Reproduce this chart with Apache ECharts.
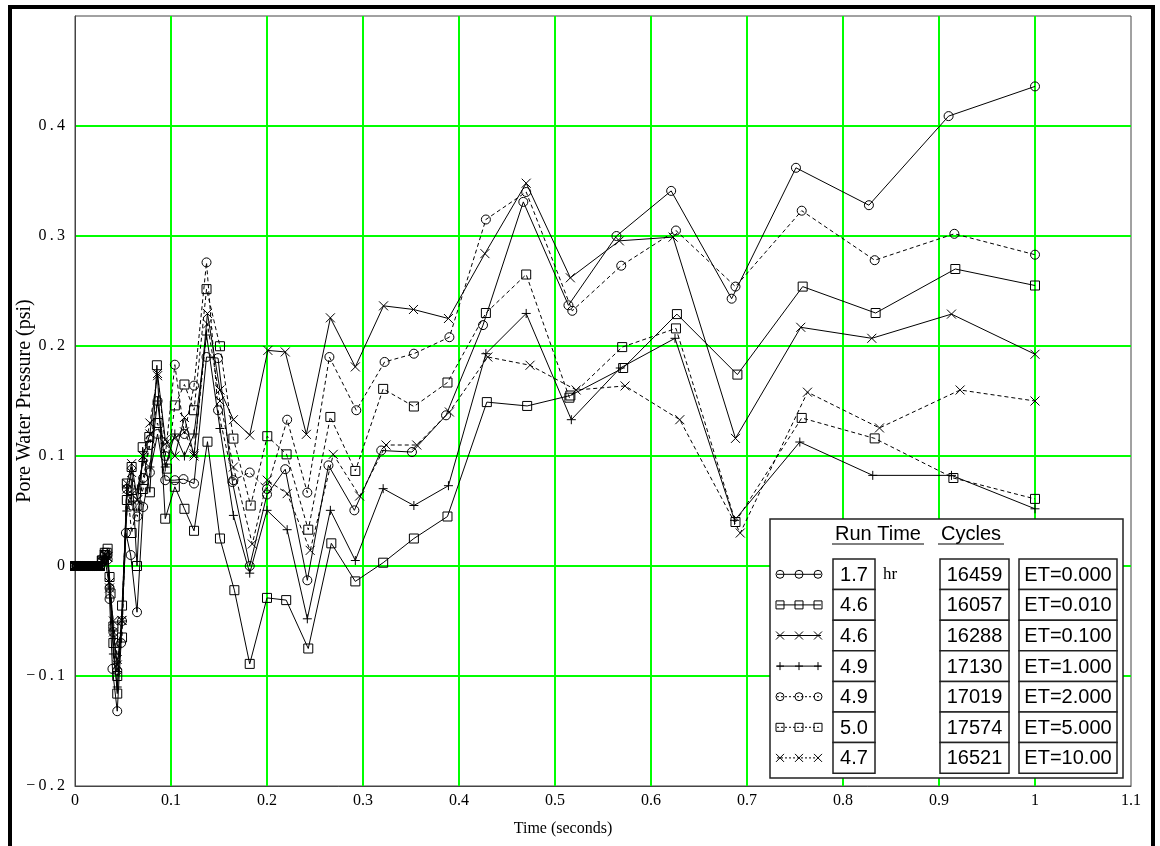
<!DOCTYPE html>
<html>
<head>
<meta charset="utf-8">
<script src="https://cdn.jsdelivr.net/npm/echarts@6/dist/echarts.min.js"></script>
<style>
  html, body { margin: 0; padding: 0; background: #fff; }
  #chart { width: 1160px; height: 846px; }
</style>
</head>
<body>
<div id="chart"></div>
<script>
// readings before the trigger: every test sits at 0 psi
var flatStart = [[0, 0], [0.002, 0], [0.004, 0], [0.006, 0], [0.008, 0], [0.010, 0], [0.012, 0],
    [0.014, 0], [0.016, 0], [0.018, 0], [0.020, 0], [0.022, 0], [0.024, 0], [0.026, 0]];

// [time (s), pore water pressure (psi)]
var et0000 = [[0.028, 0.004], [0.031, 0.01], [0.034, 0.006], [0.036, -0.03], [0.039, -0.0935], [0.044, -0.132],
    [0.048, -0.07], [0.053, 0.03], [0.058, 0.01], [0.0646, -0.042], [0.071, 0.0536], [0.078, 0.085], [0.086, 0.12],
    [0.094, 0.078], [0.104, 0.078], [0.113, 0.079], [0.124, 0.075], [0.137, 0.19], [0.149, 0.189], [0.164, 0.0763],
    [0.182, 0.0], [0.2, 0.065], [0.219, 0.088], [0.242, -0.013], [0.264, 0.0915], [0.291, 0.0506], [0.319, 0.105],
    [0.351, 0.1036], [0.3865, 0.137], [0.425, 0.219], [0.467, 0.331], [0.514, 0.237], [0.564, 0.300], [0.621, 0.341],
    [0.684, 0.243], [0.751, 0.362], [0.827, 0.328], [0.910, 0.409], [1.0, 0.436]];

var et0010 = [[0.028, 0.005], [0.031, 0.012], [0.034, 0.0157], [0.037, -0.025], [0.040, -0.07], [0.044, -0.116],
    [0.049, -0.036], [0.054, 0.06], [0.059, 0.09], [0.0646, 0.0], [0.0705, 0.108], [0.078, 0.067], [0.0853, 0.1825],
    [0.094, 0.043], [0.104, 0.072], [0.114, 0.052], [0.124, 0.032], [0.138, 0.113], [0.151, 0.025], [0.166, -0.022],
    [0.182, -0.089], [0.2, -0.029], [0.22, -0.031], [0.243, -0.075], [0.267, 0.0206], [0.292, -0.014], [0.321, 0.003],
    [0.353, 0.025], [0.388, 0.045], [0.429, 0.149], [0.471, 0.1455], [0.516, 0.155], [0.571, 0.18], [0.627, 0.229],
    [0.690, 0.174], [0.758, 0.254], [0.834, 0.230], [0.917, 0.270], [1.0, 0.255]];

var et0100 = [[0.028, 0.004], [0.031, 0.01], [0.034, 0.008], [0.036, -0.015], [0.040, -0.06], [0.044, -0.09],
    [0.049, -0.0495], [0.054, 0.075], [0.059, 0.093], [0.065, 0.06], [0.071, 0.1], [0.078, 0.12], [0.086, 0.175],
    [0.094, 0.115], [0.104, 0.1], [0.114, 0.135], [0.124, 0.1], [0.138, 0.2296], [0.151, 0.16], [0.165, 0.133],
    [0.182, 0.119], [0.2009, 0.196], [0.219, 0.1946], [0.241, 0.1197], [0.266, 0.2256], [0.292, 0.181],
    [0.3214, 0.2365], [0.3526, 0.2332], [0.389, 0.225], [0.427, 0.284], [0.470, 0.348], [0.516, 0.262],
    [0.567, 0.2956], [0.623, 0.299], [0.688, 0.116], [0.756, 0.217], [0.830, 0.207], [0.913, 0.229], [1.0, 0.1925]];

var et1000 = [[0.028, 0.003], [0.031, 0.008], [0.033, 0.008], [0.036, -0.02], [0.040, -0.08], [0.044, -0.11],
    [0.049, -0.05], [0.054, 0.05], [0.059, 0.065], [0.065, 0.07], [0.071, 0.095], [0.078, 0.09], [0.086, 0.15],
    [0.094, 0.09], [0.104, 0.12], [0.114, 0.1], [0.124, 0.12], [0.137, 0.21], [0.151, 0.125], [0.165, 0.046],
    [0.182, -0.0065], [0.2, 0.0506], [0.221, 0.033], [0.242, -0.048], [0.266, 0.0506], [0.292, 0.005],
    [0.321, 0.0703], [0.353, 0.055], [0.389, 0.073], [0.428, 0.193], [0.470, 0.2296], [0.517, 0.133], [0.568, 0.18],
    [0.625, 0.207], [0.687, 0.0415], [0.755, 0.1127], [0.831, 0.0824], [0.913, 0.0824], [1.0, 0.052]];

var et2000 = [[0.028, 0.004], [0.031, 0.01], [0.034, 0.01], [0.036, -0.02], [0.040, -0.06], [0.044, -0.095],
    [0.049, -0.05], [0.054, 0.07], [0.059, 0.055], [0.065, 0.045], [0.071, 0.08], [0.078, 0.11], [0.086, 0.15],
    [0.094, 0.1], [0.104, 0.183], [0.114, 0.12], [0.124, 0.164], [0.137, 0.276], [0.149, 0.1416], [0.165, 0.078],
    [0.182, 0.085], [0.2, 0.07], [0.221, 0.133], [0.242, 0.0667], [0.265, 0.190], [0.293, 0.1416], [0.3225, 0.1855],
    [0.353, 0.193], [0.390, 0.208], [0.428, 0.315], [0.470, 0.340], [0.518, 0.232], [0.569, 0.273], [0.626, 0.305],
    [0.688, 0.254], [0.757, 0.323], [0.833, 0.278], [0.916, 0.302], [1.0, 0.283]];

var et5000 = [[0.028, 0.005], [0.031, 0.01], [0.033, 0.012], [0.036, -0.01], [0.040, -0.055], [0.044, -0.1],
    [0.049, -0.065], [0.054, 0.075], [0.059, 0.03], [0.065, 0.055], [0.071, 0.07], [0.0774, 0.1173], [0.086, 0.13],
    [0.0957, 0.0885], [0.104, 0.146], [0.114, 0.165], [0.124, 0.1416], [0.137, 0.2517], [0.151, 0.1998],
    [0.165, 0.1158], [0.183, 0.055], [0.2003, 0.118], [0.2204, 0.1015], [0.243, 0.033], [0.266, 0.1355],
    [0.292, 0.0864], [0.321, 0.161], [0.353, 0.145], [0.388, 0.1668], [0.428, 0.230], [0.470, 0.265], [0.515, 0.153],
    [0.570, 0.199], [0.626, 0.216], [0.688, 0.040], [0.757, 0.1346], [0.833, 0.116], [0.915, 0.080], [1.0, 0.061]];

var et10000 = [[0.028, 0.005], [0.031, 0.01], [0.034, 0.008], [0.036, -0.02], [0.040, -0.05], [0.044, -0.085],
    [0.0487, -0.0495], [0.054, 0.07], [0.059, 0.085], [0.065, 0.06], [0.071, 0.1], [0.078, 0.13], [0.086, 0.173],
    [0.094, 0.111], [0.104, 0.116], [0.114, 0.122], [0.124, 0.102], [0.138, 0.22], [0.151, 0.15], [0.165, 0.09],
    [0.1847, 0.02], [0.2003, 0.078], [0.221, 0.0658], [0.245, 0.0142], [0.269, 0.1015], [0.2965, 0.0636],
    [0.324, 0.11], [0.356, 0.11], [0.39, 0.14], [0.43, 0.190], [0.474, 0.1825], [0.522, 0.160], [0.573, 0.1637],
    [0.630, 0.133], [0.693, 0.030], [0.763, 0.158], [0.838, 0.1255], [0.922, 0.160], [1.0, 0.150]];

// legend table
var etLabels = ['ET=0.000', 'ET=0.010', 'ET=0.100', 'ET=1.000', 'ET=2.000', 'ET=5.000', 'ET=10.00'];
var runTimes = ['1.7', '4.6', '4.6', '4.9', '4.9', '5.0', '4.7'];
var cycles = ['16459', '16057', '16288', '17130', '17019', '17574', '16521'];
var markers = ['circle', 'square', 'cross', 'plus', 'circle', 'square', 'cross'];
var dashed = [false, false, false, false, true, true, true];
var seriesData = [et0000, et0010, et0100, et1000, et2000, et5000, et10000];

var SYMBOLS = {
    circle: 'circle',
    square: 'rect',
    cross: 'path://M0,0L10,10M10,0L0,10',
    plus: 'path://M5,0L5,10M0,5L10,5'
};
var SERIF = '"Liberation Serif", "Times New Roman", serif';
var SANS = '"Liberation Sans", Arial, sans-serif';
var GREEN = '#00ff00';

var chart = echarts.init(document.getElementById('chart'));

var series = seriesData.map(function(d, i) {
    return {
        name: etLabels[i],
        type: 'line',
        data: flatStart.concat(d),
        symbol: SYMBOLS[markers[i]],
        symbolSize: 9,
        showAllSymbol: true,
        lineStyle: { color: '#000', width: 1, type: dashed[i] ? [4, 3] : 'solid' },
        itemStyle: { color: 'rgba(0,0,0,0)', borderColor: '#000', borderWidth: 1 },
        z: 3
    };
});

// legend box drawn by hand, like the original plot
var LX = 770, LY = 519, LW = 353, LH = 259;
var ROW0 = 559, ROWH = 30.6;
var graphics = [
    { type: 'rect', shape: { x: 10, y: 7, width: 1143, height: 900 },
      style: { fill: 'none', stroke: '#000', lineWidth: 4 }, z: 100 },
    { type: 'text', x: 563, y: 829, z: 100,
      style: { text: 'Time (seconds)', font: '16px ' + SERIF, fill: '#000', align: 'center', verticalAlign: 'middle' } },
    { type: 'rect', shape: { x: LX, y: LY, width: LW, height: LH },
      style: { fill: '#fff', stroke: '#222', lineWidth: 1.5 }, z: 50 },
    { type: 'text', x: 878, y: 534, z: 51,
      style: { text: 'Run Time', font: '20px ' + SANS, fill: '#000', align: 'center', verticalAlign: 'middle' } },
    { type: 'line', shape: { x1: 832, y1: 544, x2: 924, y2: 544 }, style: { stroke: '#000', lineWidth: 1 }, z: 51 },
    { type: 'text', x: 971, y: 534, z: 51,
      style: { text: 'Cycles', font: '20px ' + SANS, fill: '#000', align: 'center', verticalAlign: 'middle' } },
    { type: 'line', shape: { x1: 938, y1: 544, x2: 1004, y2: 544 }, style: { stroke: '#000', lineWidth: 1 }, z: 51 },
    { type: 'text', x: 883, y: ROW0 + ROWH / 2, z: 51,
      style: { text: 'hr', font: '17px ' + SERIF, fill: '#000', align: 'left', verticalAlign: 'middle' } }
];

function markerShape(kind, cx, cy, r) {
    var st = { fill: 'none', stroke: '#000', lineWidth: 1 };
    if (kind === 'circle') return [{ type: 'circle', shape: { cx: cx, cy: cy, r: r }, style: st, z: 52 }];
    if (kind === 'square') return [{ type: 'rect', shape: { x: cx - r, y: cy - r, width: 2 * r, height: 2 * r }, style: st, z: 52 }];
    if (kind === 'cross') return [
        { type: 'line', shape: { x1: cx - r, y1: cy - r, x2: cx + r, y2: cy + r }, style: st, z: 52 },
        { type: 'line', shape: { x1: cx + r, y1: cy - r, x2: cx - r, y2: cy + r }, style: st, z: 52 }
    ];
    return [
        { type: 'line', shape: { x1: cx, y1: cy - r, x2: cx, y2: cy + r }, style: st, z: 52 },
        { type: 'line', shape: { x1: cx - r, y1: cy, x2: cx + r, y2: cy }, style: st, z: 52 }
    ];
}

etLabels.forEach(function(lab, i) {
    var top = ROW0 + i * ROWH, cy = top + ROWH / 2;
    graphics.push({ type: 'line', shape: { x1: 777, y1: cy, x2: 821, y2: cy },
        style: { stroke: '#000', lineWidth: 1, lineDash: dashed[i] ? [2, 2] : null }, z: 51 });
    [780, 799, 818].forEach(function(mx) {
        graphics = graphics.concat(markerShape(markers[i], mx, cy, 4));
    });
    var boxes = [[833, 42, runTimes[i]], [940, 69, cycles[i]], [1019, 98, lab]];
    boxes.forEach(function(b) {
        graphics.push({ type: 'rect', shape: { x: b[0], y: top, width: b[1], height: ROWH },
            style: { fill: '#fff', stroke: '#222', lineWidth: 1.5 }, z: 51 });
        graphics.push({ type: 'text', x: b[0] + b[1] / 2, y: cy + 1, z: 52,
            style: { text: b[2], font: '20px ' + SANS, fill: '#000', align: 'center', verticalAlign: 'middle' } });
    });
});

var option = {
    animation: false,
    backgroundColor: '#fff',
    // 96 px per 0.1 s and 110 px per 0.1 psi keep every grid line on whole pixels
    grid: {
        left: 75, top: 16, width: 1056, height: 770, outerBoundsMode: 'none', containLabel: false,
        show: true, borderColor: '#444', borderWidth: 1, backgroundColor: 'transparent'
    },
    xAxis: {
        type: 'value', min: 0, max: 1.1, interval: 0.1,
        axisLine: { onZero: false, lineStyle: { color: '#444', width: 1 } },
        axisTick: { show: false },
        axisLabel: { color: '#000', fontFamily: SERIF, fontSize: 16, margin: 7 },
        splitLine: { show: true, showMinLine: false, showMaxLine: false, lineStyle: { color: GREEN, width: 2, opacity: 1 } }
    },
    yAxis: {
        type: 'value', min: -0.2, max: 0.5, interval: 0.1,
        name: 'Pore Water Pressure (psi)', nameLocation: 'middle', nameGap: 40, nameMoveOverlap: false,
        nameTextStyle: { color: '#000', fontFamily: SERIF, fontSize: 20 },
        axisLine: { show: true, onZero: false, lineStyle: { color: '#444', width: 1 } },
        axisTick: { show: false },
        axisLabel: {
            color: '#000', fontFamily: SERIF, fontSize: 16, margin: 10,
            formatter: function(v) {
                if (v > 0.45) return '';
                // the original labels are letter-spaced
                return String(Math.round(v * 10) / 10).replace('-', '\u2212').split('').join('\u2009');
            }
        },
        splitLine: { show: true, showMinLine: false, showMaxLine: false, lineStyle: { color: GREEN, width: 2, opacity: 1 } }
    },
    series: series,
    graphic: graphics
};

chart.setOption(option);
window.addEventListener('resize', function() {
    chart.resize();
});
</script>
</body>
</html>
